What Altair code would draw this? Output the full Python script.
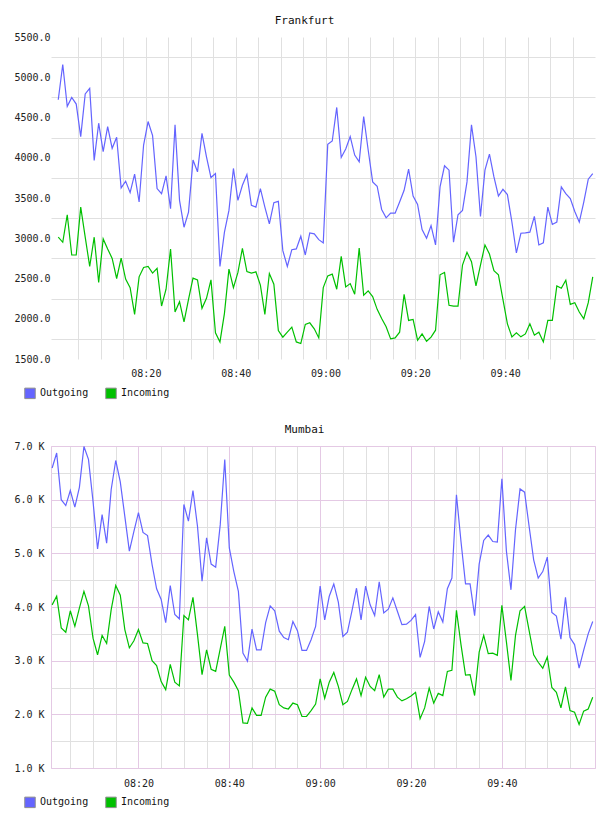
import altair as alt
import pandas as pd

FONT = "DejaVu Sans Mono"
BLUE = "#6464ff"
GREEN = "#00c000"
SERIES = ["Outgoing", "Incoming"]

# ---- Frankfurt: one sample per minute ----
fra_outgoing = [
    4721, 5158, 4638, 4750, 4667, 4262, 4792, 4862, 3967, 4429,
    4075, 4387, 4117, 4254, 3625, 3708, 3567, 3796, 3450, 4158,
    4450, 4275, 3617, 3554, 3775, 3367, 4408, 3471, 3137, 3325,
    3971, 3825, 4304, 4012, 3754, 3804, 2650, 3075, 3346, 3867,
    3471, 3658, 3792, 3408, 3387, 3617, 3387, 3179, 3442, 3458,
    2846, 2650, 2858, 2867, 3025, 2792, 3067, 3054, 2983, 2942,
    4167, 4208, 4625, 4004, 4108, 4262, 4033, 3950, 4512, 4096,
    3700, 3646, 3358, 3254, 3312, 3312, 3450, 3596, 3858, 3525,
    3421, 3108, 3000, 3158, 2917, 3638, 3900, 3846, 2950, 3292,
    3346, 3700, 4408, 4012, 3271, 3846, 4046, 3762, 3525, 3608,
    3542, 3200, 2817, 3062, 3067, 3075, 3271, 2917, 2942, 3387,
    3171, 3200, 3638, 3554, 3492, 3333, 3200, 3450, 3733, 3804,
]
fra_incoming = [
    3013, 2950, 3292, 2792, 2792, 3387, 3013, 2650, 3013, 2450,
    2992, 2867, 2750, 2500, 2754, 2492, 2387, 2054, 2521, 2637,
    2650, 2567, 2625, 2158, 2367, 2867, 2083, 2212, 1962, 2242,
    2504, 2483, 2129, 2254, 2483, 1825, 1712, 2067, 2617, 2387,
    2575, 2875, 2587, 2567, 2583, 2417, 2054, 2562, 2429, 1854,
    1771, 1833, 1896, 1712, 1692, 1929, 1950, 1875, 1762, 2387,
    2533, 2554, 2367, 2775, 2396, 2437, 2304, 2879, 2292, 2346,
    2275, 2117, 2004, 1900, 1750, 1762, 1833, 2304, 1979, 1992,
    1733, 1812, 1721, 1771, 1858, 2546, 2575, 2167, 2158, 2158,
    2667, 2825, 2708, 2408, 2667, 2917, 2804, 2596, 2546, 2242,
    1937, 1775, 1825, 1775, 1812, 1937, 1796, 1833, 1712, 1979,
    1979, 2408, 2379, 2479, 2179, 2200, 2083, 2000, 2200, 2521,
]

# ---- Mumbai (thousands) ----
mum_outgoing = [
    6.59, 6.87, 6.00, 5.89, 6.17, 5.86, 6.23, 6.99, 6.75, 5.97,
    5.08, 5.72, 5.19, 6.19, 6.73, 6.33, 5.69, 5.04, 5.41, 5.76,
    5.39, 5.33, 4.79, 4.34, 4.14, 3.71, 4.40, 3.86, 3.78, 5.91,
    5.60, 6.17, 5.50, 4.48, 5.29, 4.80, 4.74, 5.53, 6.75, 5.10,
    4.66, 4.29, 3.14, 2.99, 3.59, 3.20, 3.20, 3.71, 4.02, 3.93,
    3.55, 3.43, 3.39, 3.73, 3.56, 3.19, 3.19, 3.39, 3.64, 4.39,
    3.76, 4.20, 4.43, 4.09, 3.45, 3.53, 3.93, 4.35, 3.76, 4.39,
    4.04, 3.84, 4.47, 3.89, 3.96, 4.17, 3.92, 3.67, 3.68, 3.75,
    3.86, 3.06, 3.36, 4.01, 3.59, 3.91, 3.72, 4.34, 4.54, 6.09,
    5.22, 4.43, 4.43, 3.84, 4.80, 5.24, 5.34, 5.22, 5.21, 6.39,
    5.04, 4.32, 5.44, 6.20, 6.14, 5.50, 4.88, 4.54, 4.66, 4.93,
    3.90, 3.83, 3.40, 4.18, 3.43, 3.30, 2.86, 3.19, 3.50, 3.73,
]
mum_incoming = [
    4.04, 4.20, 3.61, 3.53, 3.93, 3.64, 3.98, 4.29, 4.02, 3.42,
    3.11, 3.47, 3.32, 3.95, 4.40, 4.22, 3.58, 3.24, 3.37, 3.58,
    3.33, 3.32, 3.00, 2.91, 2.61, 2.46, 2.93, 2.60, 2.53, 3.84,
    3.76, 4.18, 3.48, 2.74, 3.20, 2.84, 2.80, 3.22, 3.64, 2.73,
    2.60, 2.44, 1.84, 1.83, 2.12, 1.98, 1.98, 2.32, 2.47, 2.43,
    2.18, 2.12, 2.10, 2.21, 2.18, 1.96, 1.96, 2.07, 2.19, 2.66,
    2.30, 2.60, 2.78, 2.52, 2.18, 2.24, 2.46, 2.66, 2.35, 2.69,
    2.52, 2.44, 2.74, 2.32, 2.47, 2.47, 2.32, 2.25, 2.29, 2.34,
    2.41, 1.92, 2.12, 2.49, 2.21, 2.39, 2.35, 2.80, 2.82, 3.94,
    3.30, 2.73, 2.74, 2.35, 3.16, 3.47, 3.13, 3.14, 3.10, 4.03,
    3.35, 2.63, 3.47, 3.93, 4.01, 3.56, 3.11, 2.97, 2.86, 3.07,
    2.50, 2.41, 2.12, 2.51, 2.07, 2.04, 1.81, 2.06, 2.10, 2.32,
]

fra_start = "2024-01-01 08:00:30"
mum_start = "2024-01-01 08:01:00"


def frame(start, outgoing, incoming):
    times = pd.date_range(start, periods=len(outgoing), freq="min").strftime("%Y-%m-%dT%H:%M:%S")
    rows = []
    for name, vals in (("Outgoing", outgoing), ("Incoming", incoming)):
        for t, v in zip(times, vals):
            rows.append({"time": t, "series": name, "value": v})
    return pd.DataFrame(rows)


def dt(h, m, s=0):
    return alt.DateTime(year=2024, month=1, date=1, hours=h, minutes=m, seconds=s)


def five_minute_ticks(first_min, last_min):
    return [dt(8 + m // 60, m % 60) for m in range(first_min, last_min + 1, 5)]


X_LABELS = "minutes(datum.value) % 20 === 0 ? timeFormat(datum.value, '%H:%M') : ''"
IS_20 = "minutes(datum.value) % 20 === 0"
PINK = "#e4c9e4"
GRAY = "#e0e0e0"


def panel(title, df, x_axis, x_domain, y_axis, y_domain, width, height, legend_x, legend_y, view):
    base = alt.Chart(df)
    # line colours (listed in reverse so this scale stays separate from the key's)
    lines = base.mark_line(strokeWidth=1.2).encode(
        x=alt.X("time:T", scale=alt.Scale(domain=x_domain, nice=False), axis=x_axis, title=None),
        y=alt.Y("value:Q", scale=alt.Scale(domain=y_domain, nice=False, zero=False), axis=y_axis, title=None),
        stroke=alt.Stroke("series:N", scale=alt.Scale(domain=SERIES[::-1], range=[GREEN, BLUE]),
                          legend=None),
    )
    # invisible squares that carry the filled-swatch key
    keys = base.mark_square(opacity=0).encode(
        fill=alt.Fill(
            "series:N",
            scale=alt.Scale(domain=SERIES, range=[BLUE, GREEN]),
            legend=alt.Legend(
                orient="none", legendX=legend_x, legendY=legend_y, direction="horizontal",
                title=None, symbolType="square", symbolSize=110, symbolOpacity=1,
                symbolStrokeColor="#8f8f8f", symbolStrokeWidth=1,
                labelFont=FONT, labelFontSize=10, labelColor="#111",
                labelOffset=4, columnPadding=14,
            ),
        )
    )
    return alt.layer(lines, keys).properties(
        width=width, height=height, view=view,
        title=alt.Title(title, font=FONT, fontSize=11, fontWeight="normal", color="#111",
                        anchor="middle", frame="bounds", offset=6),
    )


axis_common = dict(ticks=False, domain=False, labelFont=FONT, labelFontSize=10,
                   labelColor="#222", labelOverlap=False, title=None)

# Frankfurt's plot box starts a little left of its first sample so both
# panels share a left edge while the Frankfurt trace begins further right.
fra_chart = panel(
    "Frankfurt",
    frame(fra_start, fra_outgoing, fra_incoming),
    alt.Axis(values=five_minute_ticks(5, 115), labelExpr=X_LABELS, grid=True,
             gridColor=GRAY, labelPadding=9, **axis_common),
    [dt(7, 58, 53), dt(10, 0, 0)],
    alt.Axis(values=list(range(1500, 5501, 250)),
             labelExpr="datum.value % 500 === 0 ? format(datum.value, '.1f') : ''",
             grid=True, gridColor=GRAY,
             gridOpacity={"condition": {"test": "datum.value % 500 === 0", "value": 0}, "value": 1},
             labelPadding=1, **axis_common),
    [1500, 5500],
    544, 322, -27, 350,
    alt.ViewBackground(stroke=None),
)

mum_chart = panel(
    "Mumbai",
    frame(mum_start, mum_outgoing, mum_incoming),
    alt.Axis(values=five_minute_ticks(5, 115), labelExpr=X_LABELS, grid=True,
             gridColor={"condition": {"test": IS_20, "value": PINK}, "value": GRAY},
             labelPadding=10, **axis_common),
    [dt(8, 0, 45), dt(10, 0, 30)],
    alt.Axis(values=[1.0 + 0.5 * i for i in range(13)],
             labelExpr="datum.value % 1 === 0 ? format(datum.value, '.1f') + ' K' : ''",
             grid=True,
             gridColor={"condition": {"test": "datum.value % 1 === 0", "value": PINK}, "value": GRAY},
             labelPadding=7, **axis_common),
    [1.0, 7.0],
    544, 322, -27, 350,
    alt.ViewBackground(stroke=PINK),
)

chart = alt.vconcat(fra_chart, mum_chart, spacing=22).properties(
    padding={"left": 13, "top": 15, "right": 10, "bottom": 5}
).resolve_scale(x="independent", y="independent", stroke="independent", fill="independent")

chart.save("out.html", embed_options={"renderer": "svg", "actions": False})
